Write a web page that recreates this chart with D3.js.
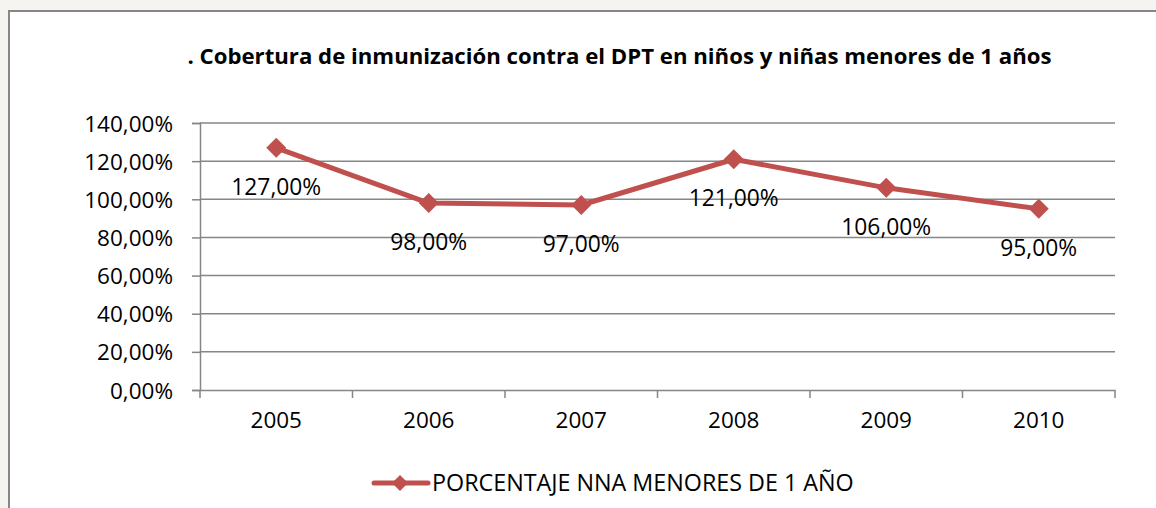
<!DOCTYPE html>
<html>
<head>
<meta charset="utf-8">
<script src="https://cdn.jsdelivr.net/npm/d3@7"></script>
<style>
  html, body { margin: 0; padding: 0; background: #f6f4f0; }
  svg { display: block; }
  text { font-family: "Open Sans", "Liberation Sans", sans-serif; fill: #000; }
</style>
</head>
<body>
<svg id="chart" width="1156" height="508"></svg>
<script>
const categories = ["2005", "2006", "2007", "2008", "2009", "2010"];
const values = [127, 98, 97, 121, 106, 95];
const yTicks = [0, 20, 40, 60, 80, 100, 120, 140];
const titleText = ". Cobertura de inmunización contra el DPT en niños y niñas menores de 1 años";
const seriesName = "PORCENTAJE NNA MENORES DE 1 AÑO";

const W = 1156, H = 508;
const svg = d3.select("#chart");
const red = "#c0504d";
const gray = "#868686";

// chart area frame
svg.append("rect")
  .attr("x", 9).attr("y", 11)
  .attr("width", W).attr("height", H)
  .attr("fill", "#fff")
  .attr("stroke", gray).attr("stroke-width", 2);

const plot = { left: 200, right: 1115, top: 123, bottom: 390 };

const x = d3.scaleBand().domain(categories).range([plot.left, plot.right]).padding(0);
const y = d3.scaleLinear().domain([0, 140]).range([plot.bottom, plot.top]);

const fmt = v => d3.format(".2f")(v).replace(".", ",") + "%";

// gridlines
svg.append("g")
  .selectAll("line").data(yTicks.filter(d => d > 0)).join("line")
  .attr("x1", plot.left).attr("x2", plot.right)
  .attr("y1", d => y(d)).attr("y2", d => y(d))
  .attr("stroke", gray).attr("stroke-width", 1.5);

// y axis
const yAxis = svg.append("g")
  .attr("transform", `translate(${plot.left},0)`)
  .call(d3.axisLeft(y).tickValues(yTicks).tickFormat(fmt).tickSize(8).tickPadding(19));
yAxis.select(".domain").attr("stroke", gray).attr("stroke-width", 1.5);
yAxis.selectAll(".tick line").attr("stroke", gray).attr("stroke-width", 1.5);
yAxis.selectAll(".tick text")
  .style("font-family", "'Open Sans', sans-serif")
  .style("font-size", "22.5px").attr("fill", "#000").attr("dy", "0.36em");

// x axis
const xAxis = svg.append("g")
  .attr("transform", `translate(0,${plot.bottom})`)
  .call(d3.axisBottom(x).tickSize(0).tickPadding(22));
xAxis.select(".domain").attr("stroke", gray).attr("stroke-width", 1.5);
xAxis.selectAll(".tick text")
  .style("font-family", "'Open Sans', sans-serif")
  .style("font-size", "22.5px").attr("fill", "#000");
// category boundary tick marks
const bounds = categories.map(c => x(c)).concat([x(categories[categories.length - 1]) + x.bandwidth()]);
xAxis.append("g").selectAll("line").data(bounds).join("line")
  .attr("x1", d => d).attr("x2", d => d)
  .attr("y1", 0).attr("y2", 8)
  .attr("stroke", gray).attr("stroke-width", 1.5);

const cx = c => x(c) + x.bandwidth() / 2;

// line
const line = d3.line().x((d, i) => cx(categories[i])).y(d => y(d));
svg.append("path")
  .datum(values)
  .attr("d", line)
  .attr("fill", "none")
  .attr("stroke", red)
  .attr("stroke-width", 5)
  .attr("stroke-linejoin", "round");

// markers
const diamond = (s) => `M0,${-s}L${s},0L0,${s}L${-s},0Z`;
svg.append("g").selectAll("path").data(values).join("path")
  .attr("d", diamond(10))
  .attr("transform", (d, i) => `translate(${cx(categories[i])},${y(d)})`)
  .attr("fill", red);

// data labels
svg.append("g").selectAll("text").data(values).join("text")
  .attr("x", (d, i) => cx(categories[i]))
  .attr("y", d => y(d) + 47)
  .attr("text-anchor", "middle")
  .style("font-size", "22.8px")
  .text(d => fmt(d));

// title
svg.append("text")
  .attr("x", 619.5).attr("y", 64)
  .attr("text-anchor", "middle")
  .style("font-size", "22.2px").style("font-weight", "bold")
  .text(titleText);

// legend
const lg = svg.append("g");
lg.append("line").attr("x1", 374).attr("x2", 428).attr("y1", 483).attr("y2", 483)
  .attr("stroke", red).attr("stroke-width", 5).attr("stroke-linecap", "round");
lg.append("path").attr("d", diamond(8)).attr("transform", "translate(400,483)").attr("fill", red);
lg.append("text").attr("x", 432).attr("y", 491)
  .style("font-size", "23.3px")
  .text(seriesName);
</script>
</body>
</html>
